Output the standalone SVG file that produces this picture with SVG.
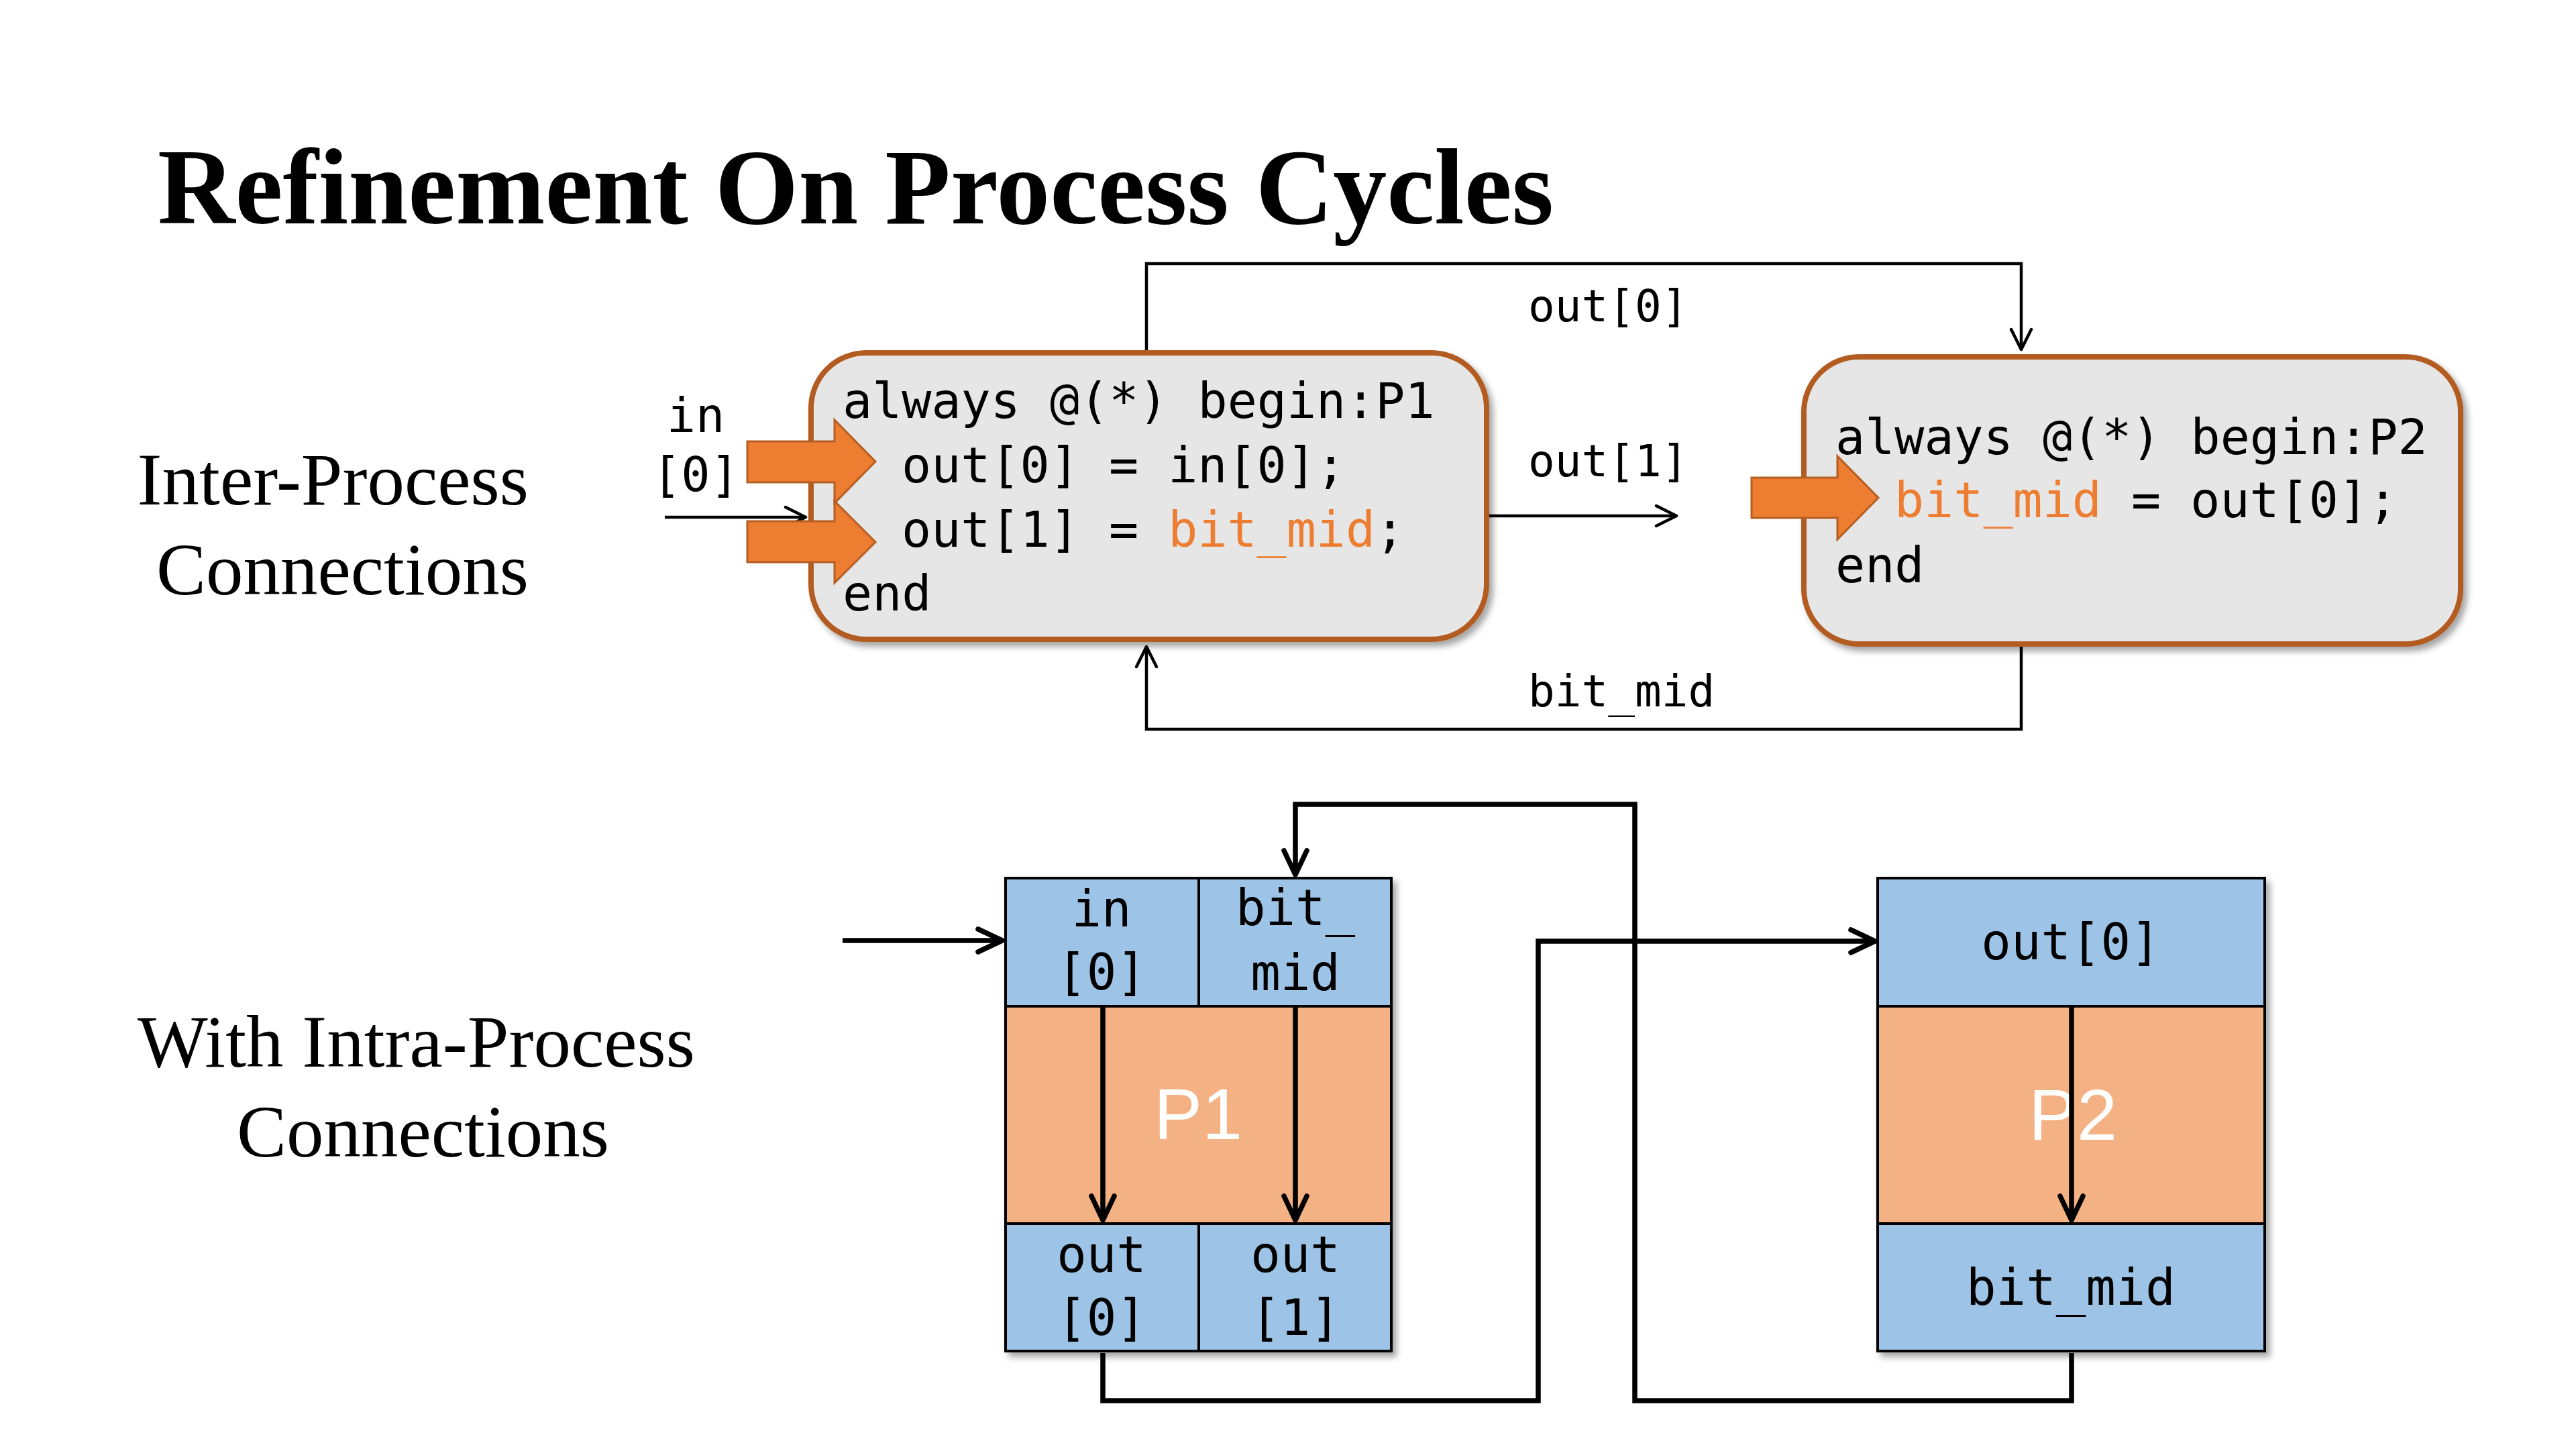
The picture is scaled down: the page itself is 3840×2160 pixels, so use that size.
<svg xmlns="http://www.w3.org/2000/svg" width="3840" height="2160" viewBox="0 0 3840 2160">
<style>
.title{font-family:"Liberation Serif","Times New Roman",serif;font-weight:bold;font-size:160px;fill:#000}
.side{font-family:"Liberation Serif","Times New Roman",serif;font-size:111px;fill:#000}
.code{font-family:"DejaVu Sans Mono","Liberation Mono",monospace;font-size:73.3px;fill:#000}
.lbl{font-family:"DejaVu Sans Mono","Liberation Mono",monospace;font-size:66px;fill:#000}
.cell{font-family:"DejaVu Sans Mono","Liberation Mono",monospace;font-size:74px;fill:#000;text-anchor:middle}
.big{font-family:"Liberation Sans",Arial,sans-serif;font-size:108px;fill:#fff;text-anchor:middle}
.hl{fill:#ED7D31}
.pbox{fill:#E6E6E6;stroke:#B35C22;stroke-width:8}
.barrow{fill:#ED7D31;stroke:#B55E22;stroke-width:3}
.blue{fill:#9DC3E6;stroke:#000;stroke-width:4}
.org{fill:#F4B183;stroke:#000;stroke-width:4}
.c1{fill:none;stroke:#000;stroke-width:4.5}
.c2{fill:none;stroke:#000;stroke-width:7.5}
</style>
<defs>
<filter id="sh" x="-10%" y="-10%" width="130%" height="130%">
<feDropShadow dx="6" dy="7" stdDeviation="5" flood-color="#000" flood-opacity="0.35"/>
</filter>
<marker id="a1" markerUnits="userSpaceOnUse" markerWidth="40" markerHeight="40" viewBox="-34 -20 40 40" refX="0" refY="0" orient="auto">
<path d="M-30,-15 L0,0 L-30,15" fill="none" stroke="#000" stroke-width="4.5" stroke-linecap="round" stroke-linejoin="round"/>
</marker>
<marker id="a2" markerUnits="userSpaceOnUse" markerWidth="50" markerHeight="50" viewBox="-42 -25 50 50" refX="0" refY="0" orient="auto">
<path d="M-36,-17 L0,0 L-36,17" fill="none" stroke="#000" stroke-width="7.5" stroke-linecap="round" stroke-linejoin="round"/>
</marker>
</defs>
<rect width="3840" height="2160" fill="#fff"/>

<text class="title" x="235" y="333">Refinement On Process Cycles</text>
<text class="side" x="788" y="752" text-anchor="end">Inter-Process</text>
<text class="side" x="788" y="886" text-anchor="end">Connections</text>
<text class="side" x="205" y="1590">With Intra-Process</text>
<text class="side" x="353" y="1724">Connections</text>

<g id="connectors">
<path class="c1" d="M1709,522 V393 H3013 V521" marker-end="url(#a1)"/>
<path class="c1" d="M2220,769 H2499" marker-end="url(#a1)"/>
<path class="c1" d="M3013,964 V1087 H1709 V964" marker-end="url(#a1)"/>
<path class="c1" d="M991,771 H1201" marker-end="url(#a1)"/>
<text class="lbl" x="2278" y="479">out[0]</text>
<text class="lbl" x="2278" y="710">out[1]</text>
<text class="lbl" x="2278" y="1053">bit_mid</text>
<text class="code" x="1037" y="644" text-anchor="middle" style="font-size:72px">in</text>
<text class="code" x="1037" y="732" text-anchor="middle" style="font-size:72px">[0]</text>

<path class="c2" d="M1256,1402 H1494" marker-end="url(#a2)"/>
<path class="c2" d="M1644,2017 V2088 H2293 V1403 H2795" marker-end="url(#a2)"/>
<path class="c2" d="M3088,2017 V2088 H2437 V1199 H1931 V1304" marker-end="url(#a2)"/>
</g>

<g id="P1">
<rect class="pbox" x="1209" y="526" width="1007" height="427" rx="82" filter="url(#sh)"/>
<text class="code" x="1256" y="623">always @(*) begin:P1</text>
<text class="code" x="1344" y="719">out[0] = in[0];</text>
<text class="code" x="1344" y="815">out[1] = <tspan class="hl">bit_mid</tspan>;</text>
<text class="code" x="1256" y="910">end</text>
<polygon class="barrow" points="1114,658 1244,658 1244,626 1305,688 1244,750 1244,719 1114,719"/>
<polygon class="barrow" points="1114,777 1244,777 1244,747 1305,808 1244,869 1244,838 1114,838"/>
</g>

<g id="P2">
<rect class="pbox" x="2689" y="532" width="979" height="428" rx="82" filter="url(#sh)"/>
<text class="code" x="2736" y="677">always @(*) begin:P2</text>
<text class="code" x="2824" y="771"><tspan class="hl">bit_mid</tspan> = out[0];</text>
<text class="code" x="2736" y="868">end</text>
<polygon class="barrow" points="2611,712 2739,712 2739,680 2800,742 2739,804 2739,772 2611,772"/>
</g>

<g id="P1-block">
<g filter="url(#sh)">
<rect class="org" x="1499" y="1500" width="575" height="324"/>
<rect class="blue" x="1499" y="1309" width="288" height="191"/>
<rect class="blue" x="1787" y="1309" width="287" height="191"/>
<rect class="blue" x="1499" y="1824" width="288" height="190"/>
<rect class="blue" x="1787" y="1824" width="287" height="190"/>
</g>
<text class="cell" x="1642" y="1381">in</text>
<text class="cell" x="1642" y="1475">[0]</text>
<text class="cell" x="1931" y="1379">bit_</text>
<text class="cell" x="1931" y="1476">mid</text>
<text class="cell" x="1642" y="1896">out</text>
<text class="cell" x="1642" y="1990">[0]</text>
<text class="cell" x="1931" y="1896">out</text>
<text class="cell" x="1931" y="1990">[1]</text>
<text class="big" x="1786" y="1698">P1</text>
<path class="c2" d="M1644,1502 V1819" marker-end="url(#a2)"/>
<path class="c2" d="M1931,1502 V1819" marker-end="url(#a2)"/>
</g>

<g id="P2-block">
<g filter="url(#sh)">
<rect class="org" x="2799" y="1500" width="577" height="324"/>
<rect class="blue" x="2799" y="1309" width="577" height="191"/>
<rect class="blue" x="2799" y="1824" width="577" height="190"/>
</g>
<text class="cell" x="3087" y="1430">out[0]</text>
<text class="cell" x="3087" y="1945">bit_mid</text>
<text class="big" x="3090" y="1699">P2</text>
<path class="c2" d="M3088,1502 V1819" marker-end="url(#a2)"/>
</g>
</svg>
